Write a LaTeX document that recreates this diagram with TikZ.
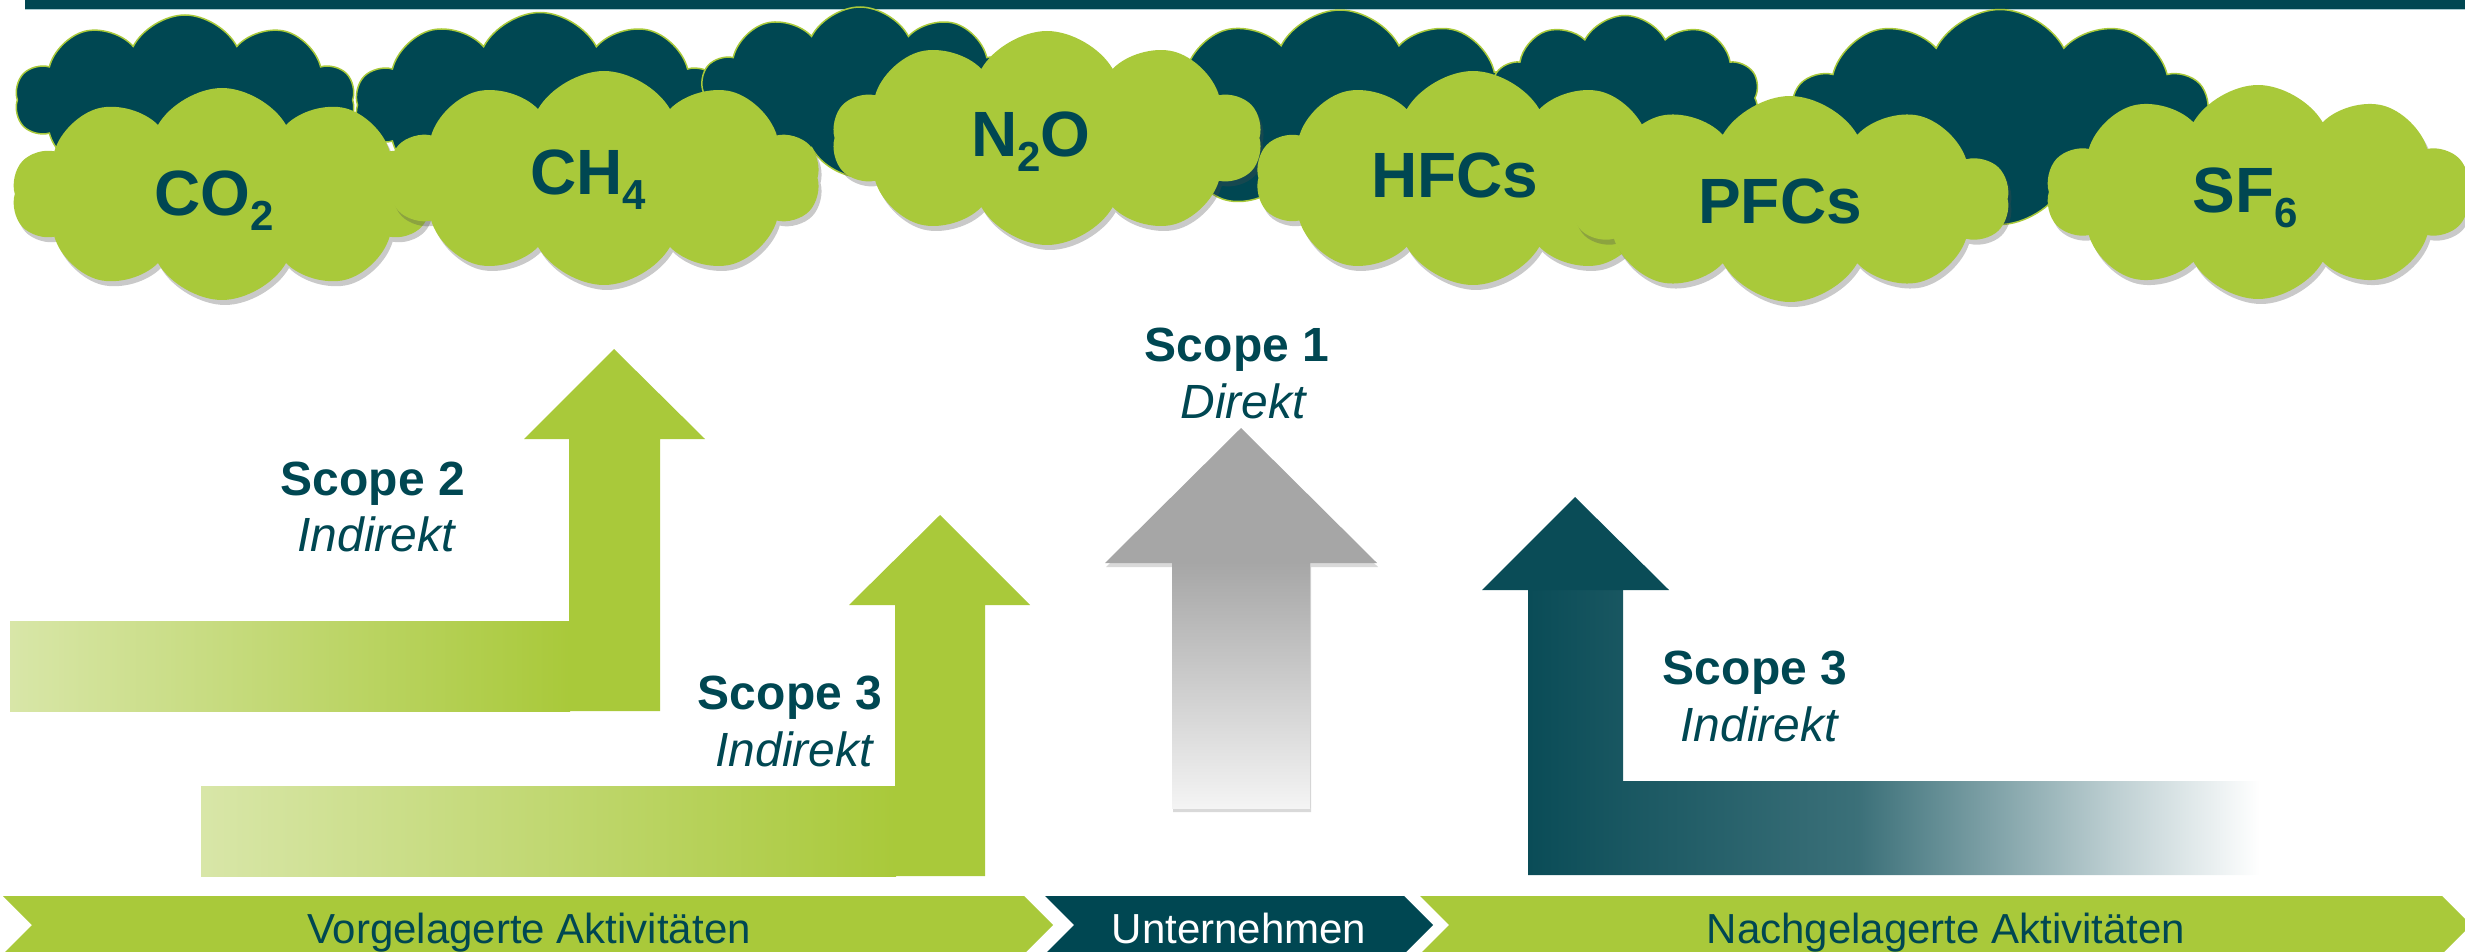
\documentclass[tikz,border=0pt]{standalone}
\usepackage{fontspec}
\setmainfont{Liberation Sans}
\usetikzlibrary{shapes.symbols,shadows}
\definecolor{dteal}{HTML}{004752}
\definecolor{ateal}{HTML}{0A4C57}
\definecolor{cgreen}{HTML}{A9C93A}
\definecolor{lgreen}{HTML}{D8E6A8}
\definecolor{greyA}{HTML}{A6A6A6}
\definecolor{greyB}{HTML}{F4F4F4}
\definecolor{bandline}{HTML}{A9CBD0}
\pgfdeclarehorizontalshading{tealfade}{100bp}{color(0bp)=(ateal); color(25bp)=(ateal); color(31.5bp)=(ateal!94!white); color(47.5bp)=(ateal!80!white); color(54.5bp)=(ateal!59!white); color(65bp)=(ateal!27!white); color(75bp)=(white); color(100bp)=(white)}
\newcommand\gassub[1]{\raisebox{-15pt}{\fontsize{42}{42}\selectfont #1}}
\begin{document}
\begin{tikzpicture}[x=1pt,y=-1pt,
  darkcloud/.style={cloud, cloud puffs=10, cloud puff arc=125, fill=dteal, draw=cgreen, line width=1.5pt, inner sep=0pt},
  greencloud/.style={cloud, cloud puffs=10, cloud puff arc=120, fill=cgreen, inner sep=0pt,
     drop shadow={opacity=0.3, shadow xshift=3pt, shadow yshift=-5pt, fill=black!70}},
  gas/.style={text=dteal, font=\fontsize{64}{64}\selectfont\bfseries, anchor=base, inner sep=0pt},
  scopet/.style={text=dteal, font=\fontsize{48}{50}\selectfont\bfseries, anchor=base, inner sep=0pt},
  scopei/.style={text=dteal, font=\fontsize{48}{50}\selectfont\itshape, anchor=base, inner sep=0pt},
  chevtext/.style={font=\fontsize{42}{42}\selectfont, anchor=base, inner sep=0pt}
]
\useasboundingbox (0,0) rectangle (2465,952);
% top band
\fill[dteal] (25,0) rectangle (2465,9);
\draw[bandline, line width=1.2pt] (25,9.6) -- (2465,9.6);

% dark clouds
\node[darkcloud, minimum width=340pt, minimum height=170pt] (d1) at (185,100) {};
\node[darkcloud, minimum width=370pt, minimum height=185pt] (d2) at (540,105) {};
\node[darkcloud, minimum width=320pt, minimum height=170pt] (d3) at (860,92) {};
\node[darkcloud, minimum width=390pt, minimum height=210pt] (d4) at (1340,115) {};
\node[darkcloud, minimum width=270pt, minimum height=165pt] (d5) at (1625,98) {};
\node[darkcloud, minimum width=420pt, minimum height=215pt] (d6) at (2000,117) {};

% green clouds
\node[greencloud, minimum width=420pt, minimum height=212pt] (g1) at (222,194) {};
\node[greencloud, minimum width=432pt, minimum height=214pt] (g2) at (604,178) {};
\node[greencloud, minimum width=430pt, minimum height=214pt] (g3) at (1047,138) {};
\node[greencloud, minimum width=434pt, minimum height=214pt] (g4) at (1473,178) {};
\node[greencloud, minimum width=438pt, minimum height=206pt] (g5) at (1790,199) {};
\node[greencloud, minimum width=424pt, minimum height=214pt] (g6) at (2258,192) {};

% gas labels
\node[gas] (co2) at (214,215) {CO\gassub{2}};
\node[gas] (ch4) at (588,195) {CH\gassub{4}};
\node[gas] (n2o) at (1031,157) {N\gassub{2}O};
\node[gas] (hfc) at (1455,197) {HFCs};
\node[gas] (pfc) at (1780,223) {PFCs};
\node[gas] (sf6) at (2245,212) {SF\gassub{6}};

% Scope 2 arrow
\shade[left color=lgreen, right color=cgreen] (10,621) rectangle (570,711);
\fill[cgreen] (569,711) -- (569,439) -- (524,439) -- (614,349) -- (705,439) -- (660,439) -- (660,711) -- cycle;
\node[scopet] (s2) at (373,495) {Scope 2};
\node[scopei] (s2i) at (376,551) {Indirekt};

% Scope 3 (upstream) arrow
\shade[left color=lgreen, right color=cgreen] (201,786) rectangle (896,876);
\fill[cgreen] (895,876) -- (895,605) -- (849,605) -- (940,515) -- (1030,605) -- (985,605) -- (985,876) -- cycle;
\node[scopet] (s3a) at (790,709) {Scope 3};
\node[scopei] (s3ai) at (794,766) {Indirekt};

% Scope 1 arrow
\fill[greyA, drop shadow={opacity=0.25, shadow xshift=1pt, shadow yshift=-4pt, fill=black!60}]
  (1172,808) -- (1172,563) -- (1105,563) -- (1241,428) -- (1377,563) -- (1310,563) -- (1310,808) -- cycle;
\shade[top color=greyA, bottom color=greyB] (1172,562) rectangle (1310,808);
\node[scopet] (s1) at (1237,361) {Scope 1};
\node[scopei] (s1i) at (1243,418) {Direkt};

% Scope 3 (downstream) arrow
\shade[shading=tealfade] (1528,875) -- (1528,589) -- (1623,589) -- (1623,781) -- (2260,781) -- (2260,875) -- cycle;
\fill[ateal] (1482,590) -- (1575,497) -- (1669,590) -- cycle;
\node[scopet] (s3b) at (1755,684) {Scope 3};
\node[scopei] (s3bi) at (1759,741) {Indirekt};

% bottom chevrons
\fill[cgreen] (3,896) -- (1024,896) -- (1053,925) -- (1024,954) -- (3,954) -- (32,925) -- cycle;
\fill[dteal] (1045,896) -- (1404,896) -- (1433,925) -- (1404,954) -- (1045,954) -- (1074,925) -- cycle;
\fill[cgreen] (1420,896) -- (2442,896) -- (2471,925) -- (2442,954) -- (1420,954) -- (1449,925) -- cycle;
\node[chevtext, text=dteal] (c1) at (529,943) {Vorgelagerte Aktivitäten};
\node[chevtext, text=white] (c2) at (1239,943) {Unternehmen};
\node[chevtext, text=dteal] (c3) at (1946,943) {Nachgelagerte Aktivitäten};
\end{tikzpicture}
\end{document}
